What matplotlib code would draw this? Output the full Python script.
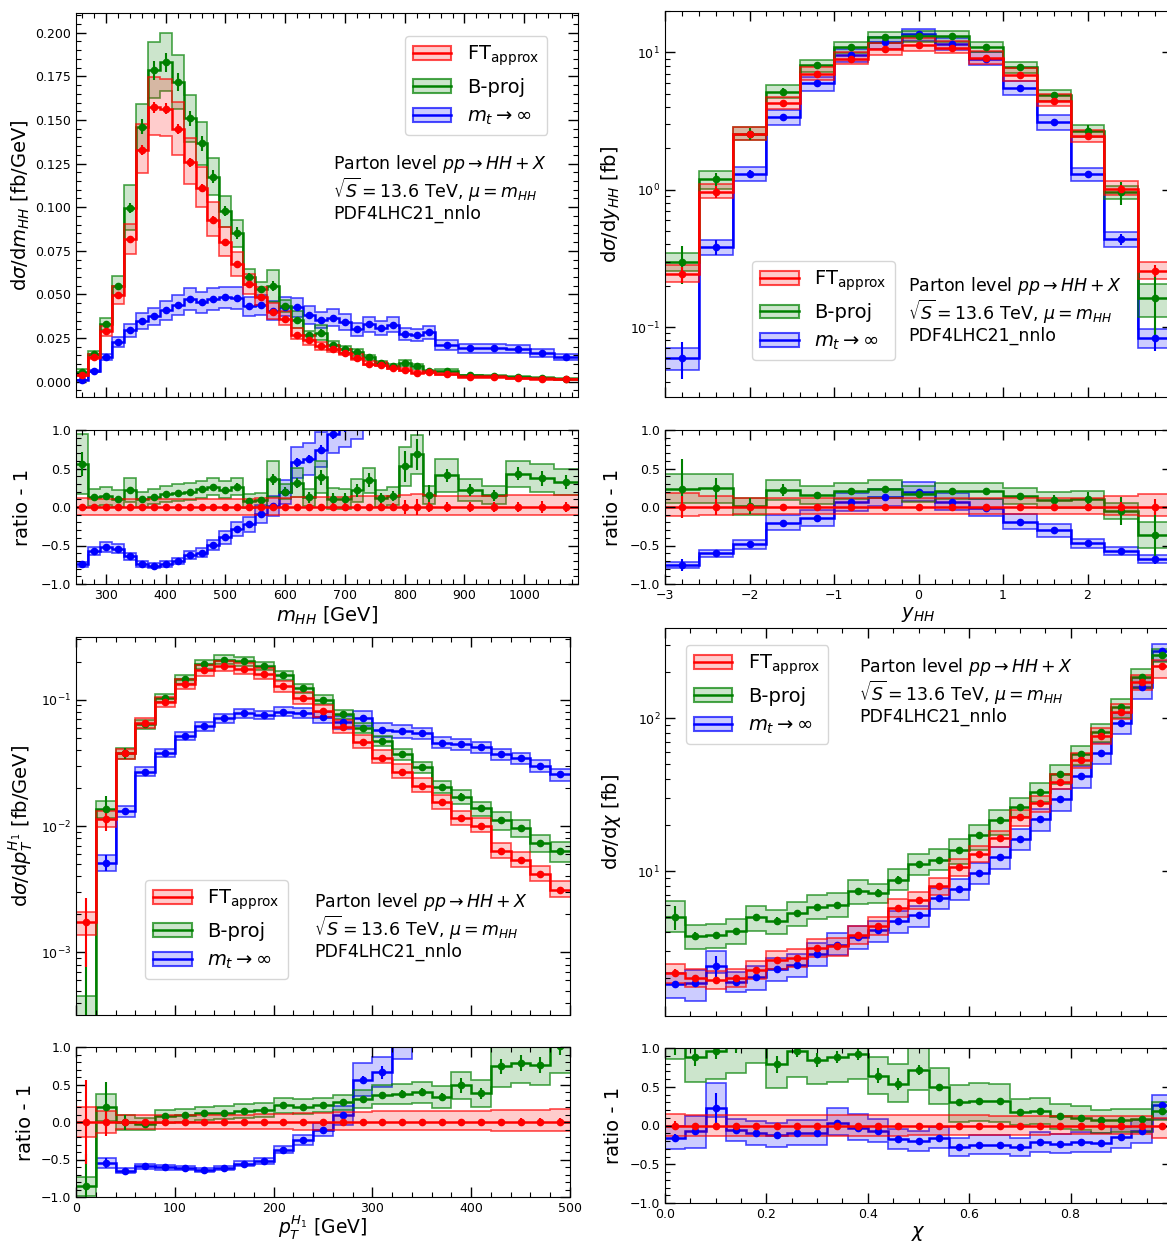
import numpy as np
import matplotlib
matplotlib.use('Agg')
import matplotlib.pyplot as plt
from matplotlib.patches import Patch
from matplotlib.lines import Line2D
from matplotlib.colors import to_rgba
from matplotlib.ticker import MultipleLocator, AutoMinorLocator, NullFormatter, FixedLocator

W, H = 1167, 1241

# ---------------- m_HH ----------------
edges_mhh = np.concatenate([np.arange(250, 851, 20), np.arange(890, 1091, 40)])
red_mhh = [0.0037, 0.0143, 0.0289, 0.0495, 0.0815, 0.1328, 0.1573, 0.1565, 0.1446, 0.1257,
           0.1110, 0.0929, 0.0799, 0.0672, 0.0557, 0.0485, 0.0402, 0.0360, 0.0270, 0.0236,
           0.0203, 0.0188, 0.0167, 0.0138, 0.0103, 0.0098, 0.0080, 0.0069, 0.0052, 0.0054,
           0.0044, 0.0029, 0.0029, 0.0019, 0.0017, 0.0013]
red_mhh_up = [0.12, 0.11, 0.11, 0.11, 0.11, 0.11, 0.11, 0.11, 0.11, 0.11, 0.11, 0.11, 0.11, 0.11,
              0.11, 0.12, 0.12, 0.12, 0.13, 0.13, 0.13, 0.13, 0.13, 0.14, 0.14, 0.14, 0.14, 0.16,
              0.17, 0.16, 0.14, 0.14, 0.14, 0.15, 0.15, 0.15]
red_mhh_dn = [0.10, 0.10, 0.10, 0.10, 0.10, 0.10, 0.10, 0.10, 0.10, 0.10, 0.10, 0.10, 0.10, 0.10,
              0.10, 0.10, 0.10, 0.10, 0.10, 0.10, 0.10, 0.10, 0.10, 0.10, 0.10, 0.10, 0.10, 0.10,
              0.10, 0.10, 0.11, 0.11, 0.11, 0.11, 0.11, 0.11]
red_mhh_stat = [0.03, 0.02, 0.02, 0.02, 0.02, 0.02, 0.02, 0.02, 0.02, 0.02, 0.02, 0.02, 0.02, 0.02,
                0.02, 0.03, 0.03, 0.03, 0.04, 0.04, 0.04, 0.05, 0.05, 0.04, 0.04, 0.05, 0.05, 0.09,
                0.10, 0.06, 0.07, 0.06, 0.06, 0.07, 0.08, 0.07]
green_mhh_ratio = [0.556, 0.126, 0.143, 0.109, 0.222, 0.100, 0.135, 0.170, 0.187, 0.200, 0.230,
                   0.265, 0.222, 0.265, 0.078, 0.091, 0.360, 0.200, 0.317, 0.126, 0.387, 0.109,
                   0.104, 0.217, 0.348, 0.113, 0.143, 0.526, 0.683, 0.157, 0.413, 0.222, 0.152,
                   0.430, 0.374, 0.322]
green_mhh_band = [0.25, 0.10, 0.10, 0.10, 0.13, 0.09, 0.09, 0.09, 0.09, 0.09, 0.09, 0.09, 0.09,
                  0.09, 0.08, 0.08, 0.17, 0.08, 0.14, 0.10, 0.15, 0.12, 0.12, 0.12, 0.12, 0.10,
                  0.10, 0.17, 0.15, 0.10, 0.15, 0.12, 0.10, 0.12, 0.13, 0.13]
green_mhh_stat = [0.10, 0.03, 0.03, 0.03, 0.03, 0.03, 0.03, 0.03, 0.03, 0.03, 0.03, 0.03, 0.03,
                  0.04, 0.04, 0.04, 0.05, 0.05, 0.05, 0.06, 0.07, 0.06, 0.07, 0.07, 0.07, 0.06,
                  0.06, 0.13, 0.12, 0.11, 0.06, 0.06, 0.06, 0.06, 0.07, 0.07]
blue_mhh_ratio = [-0.743, -0.570, -0.517, -0.543, -0.639, -0.739, -0.761, -0.739, -0.696, -0.622,
                  -0.591, -0.491, -0.396, -0.287, -0.226, -0.091, 0.013, 0.196, 0.578, 0.622,
                  0.743, 0.950, 1.05, 1.17, 2.2, 2.13, 3.08, 2.94, 4.1, 4.26, 3.8, 5.6, 5.6,
                  8.8, 8.6, 9.8]
blue_mhh_band = 0.13
blue_mhh_stat = 0.035

# ---------------- y_HH ----------------
edges_y = np.linspace(-3.0, 3.0, 16)
red_y = [0.242, 0.964, 2.54, 4.25, 6.95, 8.99, 10.5, 11.3, 10.8, 9.1, 6.84, 4.45, 2.45, 1.01, 0.256]
red_y_up = [0.18, 0.14, 0.12, 0.12, 0.12, 0.12, 0.12, 0.12, 0.12, 0.12, 0.12, 0.12, 0.12, 0.14, 0.17]
red_y_dn = [0.12, 0.10, 0.09, 0.09, 0.09, 0.09, 0.09, 0.09, 0.09, 0.09, 0.09, 0.09, 0.09, 0.10, 0.12]
red_y_stat = [0.14, 0.10, 0.05, 0.02, 0.02, 0.02, 0.02, 0.02, 0.02, 0.02, 0.02, 0.02, 0.04, 0.07, 0.10]
green_y_ratio = [0.238, 0.242, 0.010, 0.220, 0.156, 0.208, 0.234, 0.165, 0.208, 0.208, 0.143,
                 0.091, 0.100, -0.050, -0.364]
green_y_band = [0.15, 0.15, 0.11, 0.11, 0.10, 0.09, 0.09, 0.09, 0.09, 0.09, 0.09, 0.09, 0.10, 0.11, 0.27]
green_y_stat = [0.31, 0.11, 0.10, 0.06, 0.03, 0.03, 0.02, 0.02, 0.02, 0.02, 0.03, 0.06, 0.09, 0.19, 0.47]
blue_y_ratio = [-0.753, -0.602, -0.485, -0.203, -0.143, 0.069, 0.126, 0.199, 0.069, -0.009,
                -0.190, -0.300, -0.472, -0.567, -0.675]
blue_y_band = [0.18, 0.12, 0.11, 0.12, 0.12, 0.11, 0.10, 0.10, 0.10, 0.11, 0.12, 0.12, 0.11, 0.12, 0.16]
blue_y_stat = [0.30, 0.12, 0.07, 0.04, 0.03, 0.02, 0.02, 0.02, 0.02, 0.02, 0.03, 0.03, 0.05, 0.09, 0.20]

# ---------------- pT(H1) ----------------
edges_pt = np.linspace(0, 500, 26)
red_pt = [0.00173, 0.01135, 0.0375, 0.0658, 0.0959, 0.1336, 0.1705, 0.1845, 0.1758, 0.1595,
          0.1274, 0.1025, 0.0814, 0.0609, 0.0460, 0.0348, 0.0269, 0.0209, 0.0154, 0.0115,
          0.0100, 0.00638, 0.0054, 0.00415, 0.00313]
red_pt_up = [0.20, 0.15, 0.09, 0.09, 0.09, 0.10, 0.10, 0.10, 0.10, 0.11, 0.11, 0.12, 0.12, 0.13,
             0.14, 0.15, 0.15, 0.15, 0.15, 0.15, 0.15, 0.16, 0.16, 0.16, 0.17]
red_pt_dn = [0.20, 0.14, 0.09, 0.09, 0.09, 0.09, 0.09, 0.09, 0.09, 0.09, 0.09, 0.10, 0.10, 0.10,
             0.10, 0.10, 0.10, 0.11, 0.11, 0.11, 0.11, 0.12, 0.12, 0.12, 0.12]
red_pt_stat = [0.56, 0.19, 0.04, 0.03, 0.03, 0.02, 0.02, 0.02, 0.02, 0.02, 0.02, 0.02, 0.02, 0.03,
               0.03, 0.03, 0.03, 0.04, 0.04, 0.04, 0.04, 0.04, 0.05, 0.05, 0.05]
green_pt_ratio = [-0.85, 0.200, 0.000, -0.030, 0.076, 0.089, 0.116, 0.124, 0.151, 0.160, 0.222,
                  0.204, 0.227, 0.262, 0.307, 0.364, 0.373, 0.396, 0.333, 0.489, 0.382, 0.742,
                  0.782, 0.764, 1.02]
green_pt_up = [0.75, 0.15, 0.10, 0.08, 0.08, 0.08, 0.08, 0.08, 0.08, 0.08, 0.08, 0.08, 0.08, 0.08,
               0.09, 0.09, 0.10, 0.10, 0.11, 0.12, 0.13, 0.16, 0.15, 0.15, 0.18]
green_pt_dn = [0.90, 0.15, 0.10, 0.08, 0.08, 0.08, 0.08, 0.08, 0.08, 0.08, 0.08, 0.08, 0.08, 0.08,
               0.09, 0.09, 0.10, 0.10, 0.11, 0.12, 0.13, 0.16, 0.15, 0.15, 0.18]
green_pt_stat = [2.8, 0.28, 0.10, 0.05, 0.04, 0.03, 0.03, 0.02, 0.02, 0.02, 0.02, 0.03, 0.03, 0.03,
                 0.03, 0.03, 0.04, 0.04, 0.04, 0.07, 0.05, 0.06, 0.06, 0.06, 0.06]
blue_pt_ratio = [np.nan, -0.547, -0.649, -0.591, -0.604, -0.613, -0.640, -0.613, -0.556, -0.524,
                 -0.369, -0.236, -0.102, 0.089, 0.564, 0.662, 1.09, 1.61, 1.97, 2.86, 3.22, 4.8,
                 5.37, 6.2, 7.2]
blue_pt_band = [0.14, 0.14, 0.10, 0.08, 0.08, 0.08, 0.08, 0.08, 0.08, 0.08, 0.08, 0.09, 0.10,
                0.12, 0.14, 0.12, 0.12, 0.10, 0.10, 0.10, 0.10, 0.10, 0.10, 0.11, 0.11]
blue_pt_stat = [0.10, 0.14, 0.04, 0.03, 0.02, 0.02, 0.02, 0.02, 0.02, 0.02, 0.02, 0.02, 0.02,
                0.03, 0.03, 0.05, 0.05, 0.05, 0.04, 0.04, 0.04, 0.04, 0.05, 0.05, 0.05]

# ---------------- chi ----------------
edges_chi = np.linspace(0, 1.0, 26)
red_chi = [2.15, 2.00, 1.95, 2.00, 2.26, 2.63, 2.70, 3.17, 3.22, 3.84, 4.40, 5.74, 6.45, 7.97,
           10.6, 13.0, 16.4, 22.5, 27.8, 38.6, 53.2, 76.9, 110.6, 172.0, 219.0]
red_chi_up = [0.15, 0.14, 0.14, 0.14, 0.14, 0.14, 0.14, 0.14, 0.14, 0.14, 0.14, 0.14, 0.13, 0.13,
              0.13, 0.13, 0.12, 0.12, 0.12, 0.12, 0.12, 0.12, 0.12, 0.12, 0.10]
red_chi_dn = [0.14, 0.13, 0.13, 0.13, 0.13, 0.13, 0.13, 0.13, 0.13, 0.13, 0.13, 0.13, 0.12, 0.12,
              0.12, 0.12, 0.12, 0.12, 0.12, 0.11, 0.11, 0.11, 0.11, 0.11, 0.16]
red_chi_stat = [0.06, 0.03, 0.03, 0.03, 0.03, 0.03, 0.03, 0.02, 0.02, 0.02, 0.02, 0.02, 0.02, 0.02,
                0.02, 0.02, 0.02, 0.02, 0.02, 0.02, 0.02, 0.02, 0.02, 0.02, 0.02]
green_chi_ratio = [1.33, 0.88, 0.957, 1.04, 1.21, 0.79, 0.96, 0.845, 0.88, 0.92, 0.642, 0.534,
                   0.716, 0.491, 0.306, 0.319, 0.310, 0.177, 0.190, 0.129, 0.103, 0.065, 0.073,
                   0.078, 0.190]
green_chi_up = [0.28, 0.19, 0.19, 0.19, 0.19, 0.19, 0.19, 0.19, 0.19, 0.19, 0.15, 0.17, 0.17, 0.17,
                0.17, 0.17, 0.17, 0.14, 0.14, 0.13, 0.13, 0.13, 0.13, 0.13, 0.09]
green_chi_dn = [0.20, 0.17, 0.18, 0.18, 0.18, 0.17, 0.17, 0.17, 0.17, 0.17, 0.14, 0.15, 0.15, 0.14,
                0.20, 0.20, 0.20, 0.14, 0.14, 0.15, 0.15, 0.15, 0.15, 0.15, 0.10]
green_chi_stat = [0.18, 0.06, 0.05, 0.05, 0.05, 0.06, 0.04, 0.05, 0.04, 0.04, 0.06, 0.05, 0.04,
                  0.03, 0.02, 0.02, 0.02, 0.02, 0.02, 0.02, 0.02, 0.02, 0.02, 0.02, 0.02]
blue_chi_ratio = [-0.155, -0.069, 0.228, -0.052, -0.103, -0.125, -0.091, -0.091, 0.026, -0.026,
                  -0.069, -0.177, -0.203, -0.159, -0.276, -0.246, -0.246, -0.276, -0.211, -0.233,
                  -0.211, -0.224, -0.151, -0.073, 0.263]
blue_chi_up = [0.18, 0.21, 0.26, 0.15, 0.18, 0.18, 0.18, 0.18, 0.20, 0.18, 0.16, 0.16, 0.16, 0.16,
               0.16, 0.16, 0.16, 0.16, 0.16, 0.16, 0.16, 0.16, 0.16, 0.16, 0.10]
blue_chi_dn = [0.18, 0.24, 0.10, 0.15, 0.17, 0.17, 0.17, 0.17, 0.14, 0.17, 0.16, 0.16, 0.16, 0.16,
               0.16, 0.16, 0.16, 0.16, 0.16, 0.16, 0.16, 0.16, 0.16, 0.16, 0.14]
blue_chi_stat = [0.05, 0.05, 0.16, 0.04, 0.03, 0.03, 0.03, 0.03, 0.03, 0.03, 0.03, 0.03, 0.03,
                 0.03, 0.02, 0.02, 0.02, 0.02, 0.02, 0.02, 0.02, 0.02, 0.02, 0.02, 0.02]

RED, GREEN, BLUE = 'red', 'green', 'blue'
labels = ['FT$_{\\mathrm{approx}}$', 'B-proj', '$m_t\\rightarrow\\infty$']
info = ('Parton level $pp\\rightarrow HH+X$\n'
        '$\\sqrt{S}=13.6$ TeV, $\\mu=m_{HH}$\n'
        'PDF4LHC21_nnlo')


def box(x0, y0, x1, y1):
    return [x0 / W, 1 - y1 / H, (x1 - x0) / W, (y1 - y0) / H]


def stepband(ax, edges, cen, hi, lo, err, color):
    ok = np.isfinite(cen)
    i0 = int(np.argmax(ok))
    e = edges[i0:]
    cen, hi, lo, err = cen[i0:], hi[i0:], lo[i0:], err[i0:]
    ax.stairs(hi, e, baseline=lo, fill=True, facecolor=color, alpha=0.2, edgecolor='none')
    ax.stairs(hi, e, baseline=None, color=color, lw=1.2, alpha=0.7)
    ax.stairs(lo, e, baseline=None, color=color, lw=1.2, alpha=0.7)
    ax.stairs(cen, e, baseline=None, color=color, lw=1.8)
    x = 0.5 * (e[:-1] + e[1:])
    ax.errorbar(x, cen, yerr=err, fmt='o', ms=4.5, color=color, elinewidth=1.5, capsize=0)


def panel(ax, axr, edges, red, red_up, red_dn, red_stat, series):
    red = np.asarray(red, float)
    # series: list of (color, ratio, up, dn, stat), drawn blue, green then red on top
    allser = series + [(RED, np.zeros_like(red), red_up, red_dn, red_stat)]
    for color, ratio, up, dn, stat in allser:
        ratio = np.asarray(ratio, float)
        up = np.broadcast_to(np.asarray(up, float), red.shape)
        dn = np.broadcast_to(np.asarray(dn, float), red.shape)
        stat = np.broadcast_to(np.asarray(stat, float), red.shape)
        cen = red * (1 + ratio)
        hi, lo, err = cen * (1 + up), cen * (1 - dn), cen * stat
        stepband(ax, edges, cen, hi, lo, err, color)
        stepband(axr, edges, cen / red - 1, hi / red - 1, lo / red - 1, err / red, color)


def style(ax, axr, xlim, xticks, xmin, xlabel, ylabel, lx, lpad=2, xfs=14):
    for a in (ax, axr):
        a.set_xlim(*xlim)
        a.xaxis.set_major_locator(FixedLocator(xticks))
        a.xaxis.set_minor_locator(MultipleLocator(xmin))
        a.tick_params(which='both', direction='in', top=True, right=True, labelsize=9)
        a.tick_params(which='major', length=7, width=1)
        a.tick_params(which='minor', length=3.5, width=0.8)
    ax.tick_params(labelbottom=False)
    axr.set_ylim(-1, 1)
    axr.yaxis.set_major_locator(MultipleLocator(0.5))
    axr.yaxis.set_minor_locator(MultipleLocator(0.1))
    axr.set_xlabel(xlabel, fontsize=xfs, labelpad=lpad)
    axr.set_ylabel('ratio - 1', fontsize=14)
    ax.set_ylabel(ylabel, fontsize=14)
    ax.yaxis.set_label_coords(lx, 0.5)
    axr.yaxis.set_label_coords(lx, 0.5)


def legend_text(ax, leg_xy, txt_xy):
    handles = []
    for c in (RED, GREEN, BLUE):
        handles.append((Patch(facecolor=to_rgba(c, 0.2), edgecolor=to_rgba(c, 0.7), lw=1.5),
                        Line2D([], [], color=c, lw=1.8)))
    ax.legend(handles, labels, loc='upper left', bbox_to_anchor=leg_xy, borderaxespad=0,
              fontsize=14)
    ax.text(txt_xy[0], txt_xy[1], info, transform=ax.transAxes, ha='left', va='top',
            fontsize=12.5, linespacing=1.05)


fig = plt.figure(figsize=(W / 100, H / 100), dpi=100)

# m_HH
ax1 = fig.add_axes(box(76, 13, 578, 397))
ax1r = fig.add_axes(box(76, 430, 578, 584))
panel(ax1, ax1r, edges_mhh, red_mhh, red_mhh_up, red_mhh_dn, red_mhh_stat,
      [(BLUE, blue_mhh_ratio, blue_mhh_band, blue_mhh_band, blue_mhh_stat),
       (GREEN, green_mhh_ratio, green_mhh_band, green_mhh_band, green_mhh_stat)])
style(ax1, ax1r, (250, 1090), np.arange(300, 1001, 100), 20, '$m_{HH}$ [GeV]',
      'd$\\sigma$/d$m_{HH}$ [fb/GeV]', -0.088)
ax1.set_ylim(-0.0088, 0.2113)
ax1.yaxis.set_major_locator(MultipleLocator(0.025))
ax1.yaxis.set_minor_locator(AutoMinorLocator())
legend_text(ax1, (0.655, 0.94), (0.512, 0.636))

# y_HH
ax2 = fig.add_axes(box(665, 11, 1172, 397))
ax2r = fig.add_axes(box(665, 430, 1172, 584))
panel(ax2, ax2r, edges_y, red_y, red_y_up, red_y_dn, red_y_stat,
      [(BLUE, blue_y_ratio, blue_y_band, blue_y_band, blue_y_stat),
       (GREEN, green_y_ratio, green_y_band, green_y_band, green_y_stat)])
ax2.set_yscale('log')
style(ax2, ax2r, (-3, 3), [-3, -2, -1, 0, 1, 2], 0.2, '$y_{HH}$', 'd$\\sigma$/d$y_{HH}$ [fb]', -0.085)
ax2.set_ylim(0.031, 20)
ax2.yaxis.set_minor_formatter(NullFormatter())
legend_text(ax2, (0.172, 0.352), (0.479, 0.316))

# pT
ax3 = fig.add_axes(box(76, 637, 570, 1015))
ax3r = fig.add_axes(box(76, 1047, 570, 1197))
panel(ax3, ax3r, edges_pt, red_pt, red_pt_up, red_pt_dn, red_pt_stat,
      [(BLUE, blue_pt_ratio, blue_pt_band, blue_pt_band, blue_pt_stat),
       (GREEN, green_pt_ratio, green_pt_up, green_pt_dn, green_pt_stat)])
ax3.set_yscale('log')
style(ax3, ax3r, (0, 500), np.arange(0, 501, 100), 20, '$p_T^{H_1}$ [GeV]',
      'd$\\sigma$/d$p_T^{H_1}$ [fb/GeV]', -0.083, lpad=-0.5, xfs=13.5)
ax3.set_ylim(3.2e-4, 0.313)
ax3.yaxis.set_minor_formatter(NullFormatter())
legend_text(ax3, (0.140, 0.357), (0.482, 0.328))

# chi
ax4 = fig.add_axes(box(665, 628, 1172, 1016))
ax4r = fig.add_axes(box(665, 1048, 1172, 1203))
panel(ax4, ax4r, edges_chi, red_chi, red_chi_up, red_chi_dn, red_chi_stat,
      [(BLUE, blue_chi_ratio, blue_chi_up, blue_chi_dn, blue_chi_stat),
       (GREEN, green_chi_ratio, green_chi_up, green_chi_dn, green_chi_stat)])
ax4.set_yscale('log')
style(ax4, ax4r, (0, 1.0), [0.0, 0.2, 0.4, 0.6, 0.8], 0.05, '$\\chi$',
      'd$\\sigma$/d$\\chi$ [fb]', -0.083)
ax4.set_ylim(1.13, 390)
ax4.yaxis.set_minor_formatter(NullFormatter())
legend_text(ax4, (0.041, 0.956), (0.383, 0.928))

fig.savefig('out.png', dpi=100)
